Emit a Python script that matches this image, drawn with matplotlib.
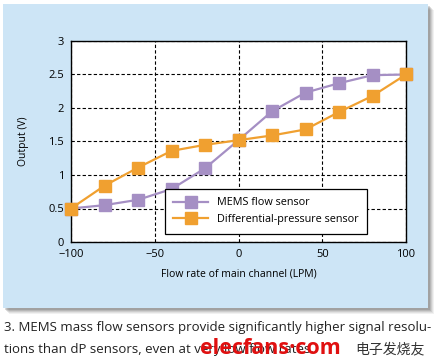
import matplotlib
matplotlib.use("Agg")
import matplotlib.pyplot as plt
from matplotlib.patches import Rectangle

# data
flow = [-100, -80, -60, -40, -20, 0, 20, 40, 60, 80, 100]
mems = [0.50, 0.55, 0.63, 0.79, 1.10, 1.52, 1.95, 2.23, 2.37, 2.49, 2.50]
dp = [0.50, 0.84, 1.11, 1.36, 1.45, 1.52, 1.59, 1.68, 1.94, 2.18, 2.50]
labels = ["MEMS flow sensor", "Differential-pressure sensor"]

purple = "#a58fc4"
orange = "#f0a030"
panel = "#cde5f6"

fig = plt.figure(figsize=(4.41, 3.63), dpi=100)
plt.rcParams["font.family"] = ["Open Sans", "DejaVu Sans"]

W, H = 441.0, 363.0
# drop shadow then the blue panel
for i, a in enumerate([0.08, 0.10, 0.14, 0.18, 0.22]):
    d = 6 - i
    fig.patches.append(Rectangle(((3 + d) / W, 1 - (308 + d) / H), 425 / W, 304 / H,
                                 transform=fig.transFigure, color="#555555", alpha=a,
                                 lw=0, zorder=0))
fig.patches.append(Rectangle((3 / W, 1 - 308 / H), 425 / W, 304 / H,
                             transform=fig.transFigure, color=panel, lw=0, zorder=1))

ax = fig.add_axes([71 / W, 121 / H, 335 / W, 201 / H])
ax.set_zorder(5)
ax.set_facecolor("white")
ax.plot(flow, mems, color=purple, marker="s", ms=8, lw=1.6, label=labels[0], zorder=3,
        clip_on=False)
ax.plot(flow, dp, color=orange, marker="s", ms=8, lw=1.6, label=labels[1], zorder=3,
        clip_on=False)

ax.set_xlim(-100, 100)
ax.set_ylim(0, 3)
ax.set_xticks([-100, -50, 0, 50, 100])
ax.set_xticklabels(["\u2212100", "\u221250", "0", "50", "100"])
ax.set_yticks([0, 0.5, 1, 1.5, 2, 2.5, 3])
ax.set_yticklabels(["0", "0.5", "1", "1.5", "2", "2.5", "3"])
ax.tick_params(length=0, labelsize=8, pad=5)
ax.grid(True, color="black", ls=(0, (3, 2)), lw=0.8)
for s in ax.spines.values():
    s.set_linewidth(1.0)
ax.set_xlabel("Flow rate of main channel (LPM)", fontsize=7.5, labelpad=6)
ax.set_ylabel("Output (V)", fontsize=7.5, labelpad=14)

leg = ax.legend(loc="lower right", bbox_to_anchor=(0.90, 0.015), fontsize=7.8,
                frameon=True, fancybox=False, edgecolor="black", framealpha=1,
                handlelength=3.2, borderpad=0.8, labelspacing=0.5)
leg.get_frame().set_linewidth(0.9)

fig.text(4 / W, 1 - 327 / H,
         "3. MEMS mass flow sensors provide significantly higher signal resolu-",
         fontsize=9.5, va="center", ha="left", color="#222222")
fig.text(4 / W, 1 - 350 / H,
         "tions than dP sensors, even at very low flow rates.",
         fontsize=9.5, va="center", ha="left", color="#222222")
# watermark
fig.text(200 / W, 1 - 348 / H, "elecfans\u00b7com", fontsize=15.5, fontweight="bold",
         color="#e01010", va="center", ha="left")
fig.text(355 / W, 1 - 349 / H, "电子发烧友", fontsize=10,
         family=["Noto Sans CJK SC", "DejaVu Sans"], color="#333333",
         va="center", ha="left")

fig.savefig("out.png", dpi=100)
